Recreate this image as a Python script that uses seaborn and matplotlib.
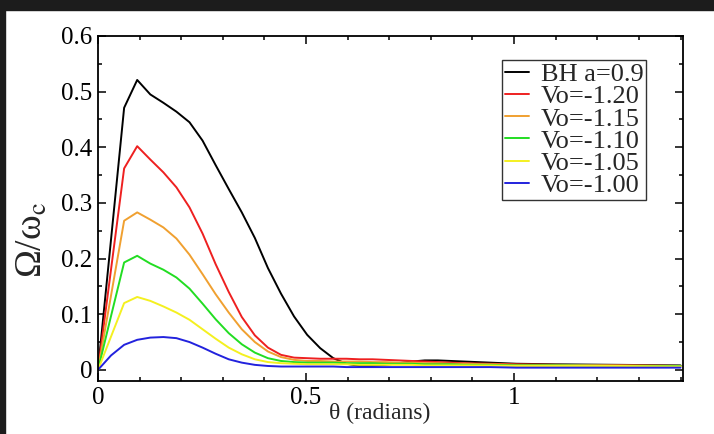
import numpy as np
import pandas as pd
import matplotlib
matplotlib.use("Agg")
import matplotlib.pyplot as plt
from matplotlib.patches import Rectangle
from matplotlib.ticker import MultipleLocator
import seaborn as sns

# polar angle grid (radians)
theta = [0.0, 0.0314, 0.0628, 0.0942, 0.1257, 0.1571, 0.1885, 0.2199, 0.2513,
         0.2827, 0.3142, 0.3456, 0.3770, 0.4084, 0.4398, 0.4712, 0.5027, 0.5341,
         0.5655, 0.5969, 0.6283, 0.6597, 0.6912, 0.7226, 0.7540, 0.7854, 0.8168,
         0.8482, 0.8796, 0.9425, 1.0053, 1.0996, 1.2566, 1.4000]

bh_a09 = [0.0, 0.235, 0.471, 0.521, 0.495, 0.480, 0.464, 0.445, 0.412, 0.368,
          0.325, 0.283, 0.237, 0.183, 0.137, 0.096, 0.063, 0.039, 0.021, 0.011,
          0.007, 0.007, 0.009, 0.012, 0.015, 0.017, 0.017, 0.016, 0.015, 0.013,
          0.011, 0.010, 0.009, 0.008]
vo_120 = [0.0, 0.181, 0.362, 0.402, 0.378, 0.355, 0.328, 0.292, 0.245, 0.190,
          0.140, 0.095, 0.062, 0.040, 0.027, 0.022, 0.021, 0.020, 0.020, 0.020,
          0.019, 0.019, 0.018, 0.017, 0.016, 0.015, 0.014, 0.013, 0.012, 0.011,
          0.010, 0.009, 0.008, 0.007]
vo_115 = [0.0, 0.134, 0.268, 0.283, 0.270, 0.256, 0.236, 0.207, 0.172, 0.136,
          0.103, 0.073, 0.050, 0.033, 0.023, 0.018, 0.016, 0.016, 0.015, 0.015,
          0.015, 0.014, 0.014, 0.013, 0.013, 0.012, 0.012, 0.011, 0.011, 0.010,
          0.009, 0.009, 0.008, 0.007]
vo_110 = [0.0, 0.097, 0.193, 0.205, 0.191, 0.180, 0.166, 0.146, 0.119, 0.091,
          0.066, 0.046, 0.031, 0.021, 0.016, 0.014, 0.013, 0.013, 0.013, 0.012,
          0.012, 0.012, 0.011, 0.011, 0.011, 0.010, 0.010, 0.010, 0.009, 0.009,
          0.008, 0.008, 0.007, 0.007]
vo_105 = [0.0, 0.060, 0.120, 0.131, 0.124, 0.114, 0.103, 0.090, 0.073, 0.056,
          0.040, 0.028, 0.019, 0.014, 0.012, 0.011, 0.010, 0.010, 0.010, 0.010,
          0.009, 0.009, 0.009, 0.009, 0.009, 0.008, 0.008, 0.008, 0.008, 0.008,
          0.007, 0.007, 0.007, 0.006]
vo_100 = [0.0, 0.026, 0.045, 0.054, 0.058, 0.059, 0.057, 0.050, 0.040, 0.029,
          0.019, 0.013, 0.009, 0.007, 0.006, 0.006, 0.006, 0.006, 0.006, 0.005,
          0.005, 0.005, 0.005, 0.005, 0.005, 0.005, 0.005, 0.005, 0.005, 0.005,
          0.004, 0.004, 0.004, 0.004]

labels = ["BH a=0.9", "Vo=-1.20", "Vo=-1.15", "Vo=-1.10", "Vo=-1.05", "Vo=-1.00"]
colors = ["#000000", "#ee2020", "#f0a030", "#22dd22", "#f4f020", "#2222dd"]
series = [bh_a09, vo_120, vo_115, vo_110, vo_105, vo_100]
x_ticks = [0, 0.5, 1]
x_ticklabels = ["0", "0.5", "1"]
y_ticks = [0, 0.1, 0.2, 0.3, 0.4, 0.5, 0.6]
y_ticklabels = ["0", "0.1", "0.2", "0.3", "0.4", "0.5", "0.6"]

df = pd.concat(
    [pd.DataFrame({"theta": theta, "omega": vals, "curve": lab})
     for lab, vals in zip(labels, series)],
    ignore_index=True,
)

sns.set_theme(style="ticks")
plt.rcParams["font.family"] = ["Liberation Serif", "DejaVu Serif"]
plt.rcParams["mathtext.fontset"] = "stix"

fig = plt.figure(figsize=(7.14, 4.34), dpi=100)
fig.patch.set_facecolor("white")
ax = fig.add_axes([98 / 714, 53 / 434, 585 / 714, 345 / 434])

sns.lineplot(data=df, x="theta", y="omega", hue="curve", hue_order=labels,
             palette=dict(zip(labels, colors)), estimator=None, sort=False,
             linewidth=1.4, ax=ax)

ax.set_xlim(0, 1.406)
ax.set_ylim(-0.02, 0.6)
ax.xaxis.set_minor_locator(MultipleLocator(0.1))
ax.yaxis.set_minor_locator(MultipleLocator(0.05))
ax.set_xticks(x_ticks)
ax.set_xticklabels(x_ticklabels)
ax.set_yticks(y_ticks)
ax.set_yticklabels(y_ticklabels)
ax.tick_params(which="both", direction="in", top=True, right=True,
               labelsize=18, colors="black", width=1.1)
ax.tick_params(which="major", length=6, pad=4)
ax.tick_params(which="minor", length=3)
for sp in ax.spines.values():
    sp.set_linewidth(1.3)
    sp.set_color("black")

ax.set_xlabel("θ (radians)", fontsize=17)
ax.xaxis.set_label_coords(0.482, -0.064)
ax.set_ylabel(r"Ω/ω$_{\mathrm{c}}$", fontsize=27)
ax.yaxis.set_label_coords(-0.082, 0.41)

leg = ax.legend(loc="upper right", bbox_to_anchor=(0.937, 0.93), fontsize=19,
                handlelength=0.9, handletextpad=0.45, labelspacing=-0.05,
                borderpad=0.1, borderaxespad=0.0, frameon=True,
                fancybox=False)
leg.get_frame().set_edgecolor("black")
leg.get_frame().set_linewidth(1.0)
leg.set_title(None)

# dark strip along the top and left edges
fig.patches.append(Rectangle((0, 1 - 10 / 434), 1, 10 / 434,
                             transform=fig.transFigure, color="#1c1c1c",
                             zorder=10))
fig.patches.append(Rectangle((0, 0), 5 / 714, 1, transform=fig.transFigure,
                             color="#1c1c1c", zorder=10))

fig.savefig("out.png", dpi=100, facecolor="white")
